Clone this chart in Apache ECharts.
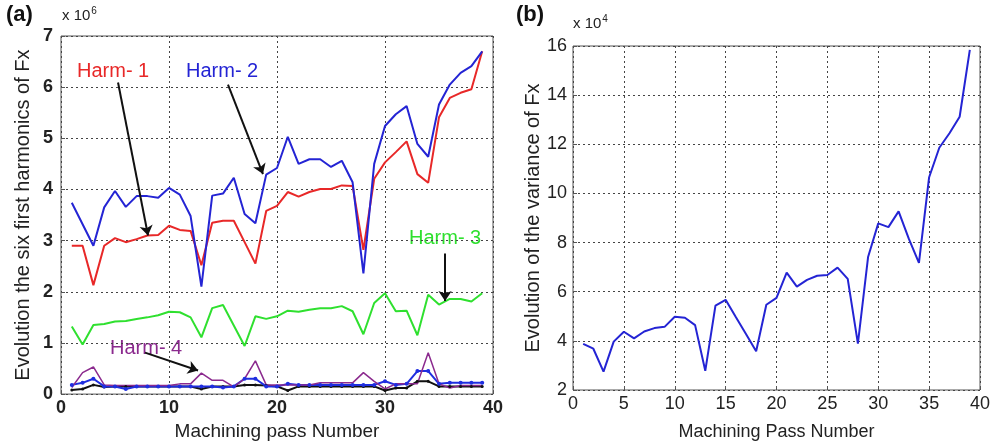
<!DOCTYPE html>
<html>
<head>
<meta charset="utf-8">
<script src="https://cdn.jsdelivr.net/npm/echarts@6/dist/echarts.min.js"></script>
<style>
  html, body { margin: 0; padding: 0; background: #fff; }
  #chart { width: 1001px; height: 446px; }
</style>
</head>
<body>
<div id="chart"></div>
<script>
// machining pass numbers (both panels)
let passes = [];
for (let i = 1; i <= 39; i++) passes.push(i);

// (a) six first harmonics of Fx, in units of 1e6
let harm1 = [2.9, 2.9, 2.13, 2.9, 3.05, 2.97, 3.03, 3.1, 3.11, 3.29, 3.21, 3.19, 2.52, 3.35, 3.39, 3.39, 2.97, 2.55, 3.58, 3.68,
    3.95, 3.86, 3.95, 4.01, 4.01, 4.08, 4.07, 2.82, 4.21, 4.53, 4.73, 4.94, 4.3, 4.13, 5.41, 5.79, 5.89, 5.96, 6.7];
let harm2 = [3.74, 3.32, 2.9, 3.65, 3.97, 3.66, 3.87, 3.87, 3.84, 4.03, 3.9, 3.48, 2.1, 3.88, 3.92, 4.23, 3.52, 3.34, 4.29, 4.42,
    5.03, 4.5, 4.59, 4.59, 4.44, 4.56, 4.14, 2.36, 4.5, 5.24, 5.47, 5.63, 4.89, 4.64, 5.66, 6.05, 6.28, 6.41, 6.7];
let harm3 = [1.32, 0.97, 1.35, 1.37, 1.42, 1.43, 1.47, 1.5, 1.54, 1.61, 1.6, 1.5, 1.11, 1.68, 1.74, 1.34, 0.94, 1.52, 1.47, 1.52,
    1.63, 1.61, 1.65, 1.68, 1.68, 1.72, 1.62, 1.17, 1.78, 1.97, 1.62, 1.63, 1.15, 1.94, 1.75, 1.86, 1.86, 1.81, 1.97];
let harm4 = [0.13, 0.42, 0.53, 0.18, 0.17, 0.17, 0.17, 0.17, 0.17, 0.17, 0.2, 0.2, 0.41, 0.27, 0.27, 0.14, 0.3, 0.65, 0.18, 0.18,
    0.18, 0.18, 0.18, 0.22, 0.22, 0.22, 0.22, 0.42, 0.25, 0.1, 0.2, 0.2, 0.2, 0.81, 0.2, 0.12, 0.17, 0.17, 0.17];
let harm5 = [0.18, 0.22, 0.3, 0.15, 0.15, 0.1, 0.15, 0.15, 0.15, 0.15, 0.15, 0.15, 0.15, 0.15, 0.13, 0.15, 0.3, 0.3, 0.15, 0.15,
    0.2, 0.18, 0.18, 0.18, 0.18, 0.18, 0.18, 0.18, 0.18, 0.25, 0.18, 0.2, 0.45, 0.45, 0.2, 0.22, 0.22, 0.22, 0.22];
let harm6 = [0.08, 0.1, 0.18, 0.14, 0.15, 0.15, 0.15, 0.15, 0.15, 0.15, 0.15, 0.15, 0.1, 0.15, 0.15, 0.15, 0.18, 0.18, 0.17, 0.15,
    0.07, 0.15, 0.15, 0.15, 0.15, 0.15, 0.15, 0.15, 0.15, 0.07, 0.12, 0.12, 0.25, 0.25, 0.15, 0.15, 0.15, 0.15, 0.15];

// (b) variance of Fx, in units of 1e4
let variance = [3.88, 3.68, 2.75, 3.97, 4.37, 4.1, 4.38, 4.52, 4.57, 4.98, 4.94, 4.64, 2.78, 5.43, 5.67, 4.97, 4.28, 3.58, 5.47, 5.75,
    6.78, 6.21, 6.48, 6.65, 6.68, 6.98, 6.52, 3.89, 7.41, 8.78, 8.63, 9.27, 8.16, 7.17, 10.66, 11.86, 12.45, 13.12, 15.84];

function pairs(ys) {
    return passes.map((x, i) => [x, ys[i]]);
}

let font = 'Liberation Sans, Arial, sans-serif';
let gridLine = { show: true, lineStyle: { color: '#444', type: [2, 3], width: 1 } };
let tick = { inside: true, length: 4, lineStyle: { color: '#555' } };
let boldLabel = { color: '#222', fontFamily: font, fontSize: 18, fontWeight: 'bold' };
let plainLabel = { color: '#222', fontFamily: font, fontSize: 18 };

function nameStyle(size) {
    return { color: '#222', fontFamily: font, fontSize: size };
}

function arrow(from, to) {
    return [{ coord: from }, { coord: to }];
}

function arrowLine(from, to) {
    return {
        silent: true, symbol: ['none', 'arrow'], symbolSize: 10, label: { show: false },
        lineStyle: { color: '#111', width: 2, type: 'solid' },
        data: [arrow(from, to)]
    };
}

let chart = echarts.init(document.getElementById('chart'));
chart.setOption({
    animation: false,
    backgroundColor: '#fff',
    grid: [
        { left: 61, right: 508, top: 36, bottom: 49, show: true, borderColor: '#555', borderWidth: 1 },
        { left: 573, right: 21, top: 46, bottom: 49, show: true, borderColor: '#555', borderWidth: 1 }
    ],
    xAxis: [
        {
            gridIndex: 0, type: 'value', min: 0, max: 40, interval: 10,
            name: 'Machining pass Number', nameLocation: 'middle', nameGap: 27, nameTextStyle: nameStyle(19),
            axisLine: { show: false }, axisTick: tick,
            axisLabel: Object.assign({ margin: 5 }, boldLabel), splitLine: gridLine
        },
        {
            gridIndex: 1, type: 'value', min: 0, max: 40, interval: 5,
            name: 'Machining Pass Number', nameLocation: 'middle', nameGap: 33, nameTextStyle: nameStyle(18),
            axisLine: { show: false }, axisTick: tick,
            axisLabel: Object.assign({ margin: 5 }, plainLabel), splitLine: gridLine
        }
    ],
    yAxis: [
        {
            gridIndex: 0, type: 'value', min: 0, max: 7, interval: 1,
            name: 'Evolution the six first harmonics of Fx', nameLocation: 'middle', nameGap: 28, nameTextStyle: nameStyle(20),
            axisLine: { show: false }, axisTick: tick,
            axisLabel: Object.assign({ margin: 8 }, boldLabel), splitLine: gridLine
        },
        {
            gridIndex: 1, type: 'value', min: 2, max: 16, interval: 2,
            name: 'Evolution of the variance of Fx', nameLocation: 'middle', nameGap: 30, nameTextStyle: nameStyle(20),
            axisLine: { show: false }, axisTick: tick,
            axisLabel: Object.assign({ margin: 6 }, plainLabel), splitLine: gridLine
        }
    ],
    series: [
        {
            name: 'Harm-6', type: 'line', xAxisIndex: 0, yAxisIndex: 0, data: pairs(harm6),
            symbol: 'circle', symbolSize: 3, itemStyle: { color: '#111' }, lineStyle: { color: '#111', width: 2 }
        },
        {
            name: 'Harm-5', type: 'line', xAxisIndex: 0, yAxisIndex: 0, data: pairs(harm5),
            symbol: 'circle', symbolSize: 4, itemStyle: { color: '#1f2ee0' }, lineStyle: { color: '#1f2ee0', width: 2 }
        },
        {
            name: 'Harm-4', type: 'line', xAxisIndex: 0, yAxisIndex: 0, data: pairs(harm4),
            symbol: 'none', lineStyle: { color: '#8b2a8e', width: 1.5 },
            markLine: arrowLine([7.78, 0.81], [12.69, 0.46])
        },
        {
            name: 'Harm-3', type: 'line', xAxisIndex: 0, yAxisIndex: 0, data: pairs(harm3),
            symbol: 'none', lineStyle: { color: '#2fe02f', width: 2 },
            markLine: arrowLine([35.56, 2.75], [35.56, 1.82])
        },
        {
            name: 'Harm-1', type: 'line', xAxisIndex: 0, yAxisIndex: 0, data: pairs(harm1),
            symbol: 'none', lineStyle: { color: '#e82828', width: 2 },
            markLine: arrowLine([5.28, 6.09], [8.06, 3.1])
        },
        {
            name: 'Harm-2', type: 'line', xAxisIndex: 0, yAxisIndex: 0, data: pairs(harm2),
            symbol: 'none', lineStyle: { color: '#2424d4', width: 2 },
            markLine: arrowLine([15.46, 6.05], [18.7, 4.3])
        },
        {
            name: 'Variance', type: 'line', xAxisIndex: 1, yAxisIndex: 1, data: pairs(variance),
            symbol: 'none', lineStyle: { color: '#2424d4', width: 2 }
        }
    ],
    graphic: [
        { type: 'text', left: 6, top: 4, style: { text: '(a)', font: 'bold 22px ' + font, fill: '#111' } },
        {
            type: 'text', left: 62, top: 6,
            style: {
                text: '{a|x 10}{s|6}', fill: '#222',
                rich: { a: { font: '15px ' + font, fill: '#222' }, s: { font: '10px ' + font, fill: '#222', verticalAlign: 'top', padding: [0, 0, 10, 1] } }
            }
        },
        { type: 'text', left: 516, top: 4, style: { text: '(b)', font: 'bold 22px ' + font, fill: '#111' } },
        {
            type: 'text', left: 573, top: 14,
            style: {
                text: '{a|x 10}{s|4}', fill: '#222',
                rich: { a: { font: '15px ' + font, fill: '#222' }, s: { font: '10px ' + font, fill: '#222', verticalAlign: 'top', padding: [0, 0, 10, 1] } }
            }
        },
        { type: 'text', left: 77, top: 61, style: { text: 'Harm- 1', font: '20px ' + font, fill: '#e82828' } },
        { type: 'text', left: 186, top: 61, style: { text: 'Harm- 2', font: '20px ' + font, fill: '#2424d4' } },
        { type: 'text', left: 409, top: 228, style: { text: 'Harm- 3', font: '20px ' + font, fill: '#2fe02f' } },
        { type: 'text', left: 110, top: 338, style: { text: 'Harm- 4', font: '20px ' + font, fill: '#8b2a8e' } }
    ]
});
</script>
</body>
</html>
